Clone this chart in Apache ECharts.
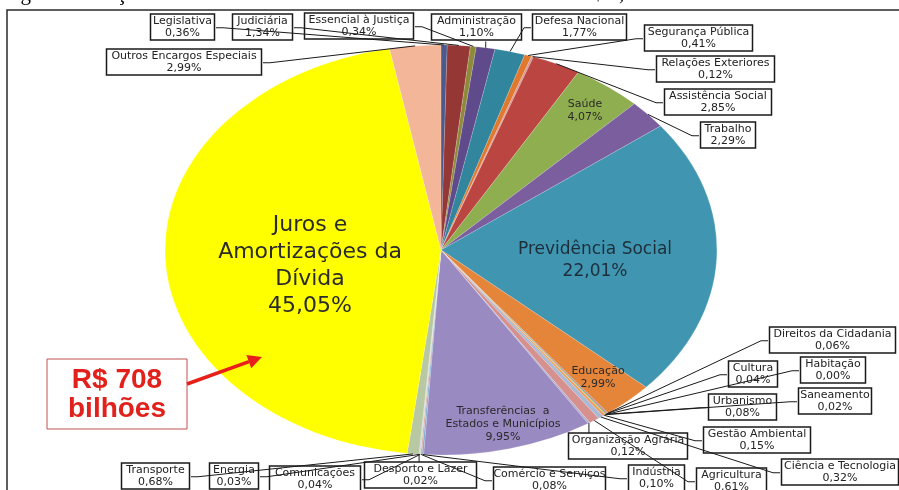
<!DOCTYPE html>
<html><head><meta charset="utf-8">
<script src="https://cdn.jsdelivr.net/npm/echarts@6/dist/echarts.min.js"></script>
<style>
html,body{margin:0;padding:0;width:899px;height:490px;overflow:hidden;background:#fff;}
#pie,#top{position:absolute;left:0;top:0;width:899px;height:490px;}
#pie{transform-origin:441px 250px;transform:scaleX(1.346);}
</style></head><body>
<div id="pie"></div><div id="top"></div>
<script>
// ---- data (clockwise from 12 o'clock) ----
const categories = [
  'Legislativa','Judiciária','Essencial à Justiça','Administração','Defesa Nacional',
  'Segurança Pública','Relações Exteriores','Assistência Social','Saúde','Trabalho',
  'Previdência Social','Educação','Cultura','Direitos da Cidadania','Urbanismo',
  'Habitação','Saneamento','Gestão Ambiental','Ciência e Tecnologia','Agricultura',
  'Organização Agrária','Transferências a Estados e Municípios','Indústria','Comércio e Serviços','Comunicações',
  'Energia','Desporto e Lazer','Transporte','Juros e Amortizações da Dívida','Outros Encargos Especiais'
];
const values = [
  0.36, 1.34, 0.34, 1.10, 1.77,
  0.41, 0.12, 2.85, 4.07, 2.29,
  22.01, 2.99, 0.04, 0.06, 0.08,
  0.00, 0.02, 0.15, 0.32, 0.61,
  0.12, 9.95, 0.10, 0.08, 0.04,
  0.03, 0.02, 0.68, 45.05, 2.99
];
const colors = [
  '#4A5A8C','#953735','#8E8A3A','#5F4B8B','#31859C',
  '#E0782E','#D99694','#BA4541','#8FAE4F','#7B5E9E',
  '#4096B1','#E5853A','#4F81BD','#C0504D','#9BBB59',
  '#8064A2','#4BACC6','#F79646','#A9B9D6','#D6918E',
  '#B4ACCE','#9A8AC2','#7FA8D0','#D9A3A2','#C3D69B',
  '#B2A1C7','#93CDDD','#B7C8A3','#FFFF00','#F3B699'
];
const totalText = 'R$ 708\nbilhões';
const titleText = 'Figura 1 – Orçamento Geral da União Executado em 2011 – Total = R$ 1,571 trilhão';

// ---- layout (label boxes: centerX, top, outer width, leader side) ----
const CX = 441, CY = 250, R = 205, SX = 1.346;
const boxPos = {
  'Legislativa':[182.5,14,67,'r'], 'Judiciária':[262.5,14,63,'r'], 'Essencial à Justiça':[359,13,112,'r'],
  'Administração':[476.5,14,93,'b'], 'Defesa Nacional':[579.5,14,97,'l'], 'Segurança Pública':[698.5,25,111,'l'],
  'Relações Exteriores':[715.5,56,121,'l'], 'Assistência Social':[718,89,110,'l'], 'Trabalho':[728,122,58,'l'],
  'Outros Encargos Especiais':[184,49,158,'r'],
  'Direitos da Cidadania':[832.5,327,129,'l'], 'Cultura':[753,361,52,'l'], 'Habitação':[833,357,68,'l'],
  'Urbanismo':[742.5,394,71,'l'], 'Saneamento':[835,388,76,'l'], 'Gestão Ambiental':[757,427,110,'l'],
  'Organização Agrária':[628,433,122,'t'], 'Ciência e Tecnologia':[840,459,120,'l'], 'Indústria':[656.5,465,59,'l'],
  'Agricultura':[731.5,468,73,'l'], 'Transporte':[155.5,463,71,'r'], 'Energia':[234,463,52,'r'],
  'Comunicações':[315,466,94,'r'], 'Desporto e Lazer':[420.5,462,115,'t'], 'Comércio e Serviços':[549.5,467,115,'l']
};
const innerPos = {
  'Juros e Amortizações da Dívida':[310,266,'big'],
  'Previdência Social':[595,261,'mid'],
  'Saúde':[585,111,'small'],
  'Educação':[598,378,'small'],
  'Transferências a Estados e Municípios':[503,424,'small']
};
const innerText = {
  'Juros e Amortizações da Dívida':'Juros e\nAmortizações da\nDívida',
  'Transferências a Estados e Municípios':'Transferências  a\nEstados e Municípios'
};
const innerStyle = {
  big:{fontSize:22,lineHeight:27,color:'#2b2b2b'},
  mid:{fontSize:17,lineHeight:22,color:'#1d2e3a'},
  small:{fontSize:11,lineHeight:13,color:'#2a2a2a'}
};
const PAD = [1,2], BW = 1.5;

function pct(v){ return v.toFixed(2).replace('.', ',') + '%'; }

// ---- bottom layer: slices (stretched to ellipse) ----
const pieChart = echarts.init(document.getElementById('pie'), null, {renderer:'svg'});
pieChart.setOption({
  animation:false,
  series:[{
    type:'pie', center:[CX,CY], radius:R, startAngle:90, clockwise:true, silent:true,
    label:{show:false}, labelLine:{show:false},
    itemStyle:{borderColor:'rgba(255,255,255,0.35)', borderWidth:0.4},
    data: categories.map((c,i)=>({name:c, value:values[i], itemStyle:{color:colors[i]}}))
  }]
});

// ---- top layer: labels, leader lines, annotations ----
function layoutFn(p){
  const name = categories[p.dataIndex];
  const inn = innerPos[name];
  if (inn) return {x:inn[0], y:inn[1], align:'center', verticalAlign:'middle'};
  const b = boxPos[name];
  if (!b) return {};
  const h = (p.labelRect && p.labelRect.height) || 28;
  const w = b[2];
  let a;
  if (p.labelLinePoints && p.labelLinePoints.length) {
    const pt = p.labelLinePoints[0];
    a = [CX + (pt[0]-CX)*SX, pt[1]];
  } else {
    a = [CX, CY];
  }
  const left = b[0]-w/2, right = b[0]+w/2, top = b[1], bottom = b[1]+h, midY = b[1]+h/2;
  let e, m;
  if (b[3]==='r'){ e=[right,midY]; m=[right+7,midY]; }
  else if (b[3]==='l'){ e=[left,midY]; m=[left-7,midY]; }
  else if (b[3]==='b'){ const x=Math.min(Math.max(a[0],left+5),right-5); e=[x,bottom]; m=[x,bottom+2]; }
  else { const x=Math.min(Math.max(a[0],left+8),right-8); e=[x,top]; m=[x,top-2]; }
  return {x:b[0], y:b[1], align:'center', verticalAlign:'top', labelLinePoints:[a,m,e]};
}

const topData = categories.map((c,i)=>{
  const item = {name:c, value:values[i]};
  if (innerPos[c]) {
    const st = innerStyle[innerPos[c][2]];
    item.label = Object.assign({position:'inside', borderWidth:0, padding:0, fontFamily:'DejaVu Sans'}, st);
    item.labelLine = {show:false};
  } else if (boxPos[c]) {
    item.label = {width: boxPos[c][2] - 2*PAD[1] - 2*BW, overflow:'none'};
  }
  return item;
});

const topChart = echarts.init(document.getElementById('top'));
topChart.setOption({
  animation:false,
  graphic:[
    {type:'rect', z:1, silent:true, shape:{x:7,y:10,width:1000,height:600}, style:{fill:'transparent', stroke:'#2a2a2a', lineWidth:1.5}},
    {type:'text', z:1, silent:true, x:3, y:-6, style:{text:titleText, font:'21px "Liberation Serif"', fill:'#000', verticalAlign:'middle', align:'left'}},
    {type:'rect', z:5, silent:true, shape:{x:47,y:359,width:140,height:70}, style:{fill:'#fff', stroke:'#C0504D', lineWidth:1}},
    {type:'text', z:6, silent:true, x:117, y:395, style:{text:totalText, font:'bold 28px "Liberation Sans"', lineHeight:29, fill:'#E2211C', align:'center', verticalAlign:'middle'}},
    {type:'line', z:6, silent:true, shape:{x1:187,y1:384,x2:249,y2:361.7}, style:{stroke:'#E8201A', lineWidth:3.5}},
    {type:'polygon', z:6, silent:true, shape:{points:[[262,357],[251.2,368.3],[246.4,355.1]]}, style:{fill:'#E8201A'}}
  ],
  series:[{
    type:'pie', center:[CX,CY], radius:R, startAngle:90, clockwise:true, silent:true,
    avoidLabelOverlap:false,
    itemStyle:{color:'rgba(0,0,0,0)'},
    label:{
      show:true, position:'outside', fontFamily:'DejaVu Sans', fontSize:11, lineHeight:12,
      color:'#222', borderColor:'#1a1a1a', borderWidth:BW, padding:PAD, align:'center', overflow:'none',
      formatter:(p)=> (innerText[p.name] || p.name) + '\n' + pct(values[p.dataIndex])
    },
    labelLine:{show:true, length:10, length2:10, lineStyle:{color:'#1a1a1a', width:1}},
    labelLayout: layoutFn,
    data: topData
  }]
});
</script>
</body></html>
